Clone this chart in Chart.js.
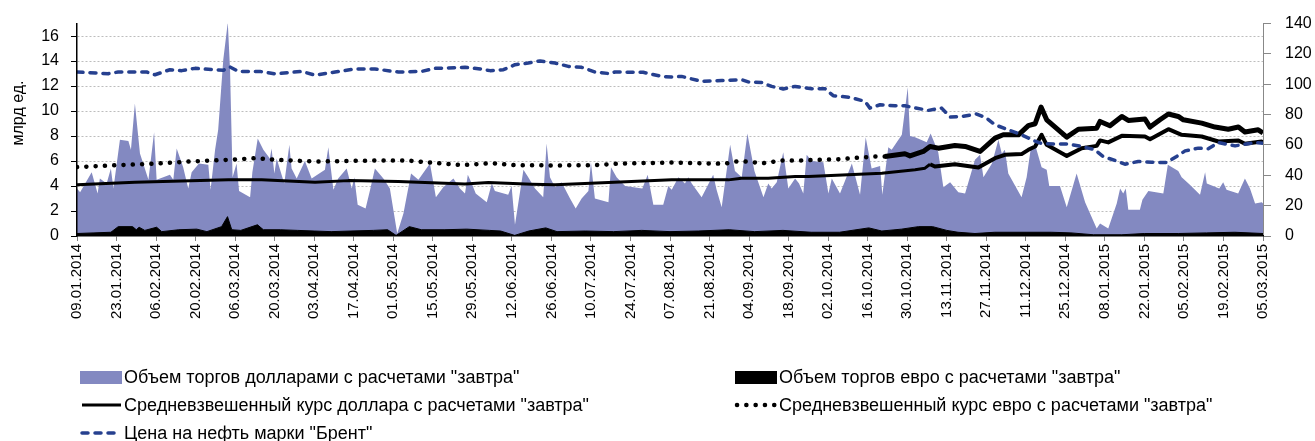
<!DOCTYPE html>
<html>
<head>
<meta charset="utf-8">
<script src="https://cdn.jsdelivr.net/npm/chart.js@4.4.0/dist/chart.umd.min.js"></script>
<style>
    html, body { margin: 0; padding: 0; background: #fff; }
</style>
</head>
<body>
<canvas id="chart" width="1315" height="441"></canvas>
<script>
// x values are calendar days counted from 09.01.2014
const tickLabels = ["09.01.2014", "23.01.2014", "06.02.2014", "20.02.2014", "06.03.2014", "20.03.2014",
    "03.04.2014", "17.04.2014", "01.05.2014", "15.05.2014", "29.05.2014", "12.06.2014", "26.06.2014",
    "10.07.2014", "24.07.2014", "07.08.2014", "21.08.2014", "04.09.2014", "18.09.2014", "02.10.2014",
    "16.10.2014", "30.10.2014", "13.11.2014", "27.11.2014", "11.12.2014", "25.12.2014", "08.01.2015",
    "22.01.2015", "05.02.2015", "19.02.2015", "05.03.2015"];
const leftTicks = [0, 2, 4, 6, 8, 10, 12, 14, 16];

const seriesNames = ['Объем торгов долларами с расчетами "завтра"', 'Объем торгов евро с расчетами "завтра"',
    'Средневзвешенный курс доллара с расчетами "завтра"', 'Средневзвешенный курс евро с расчетами "завтра"',
    'Цена на нефть марки "Брент"'];

// dollar volume, bln
const usdVolDays = [0, 1.1, 5.2, 7.3, 8.1, 10.5, 12.0, 12.9, 15.2, 18.2, 19.1, 20.5, 22.3, 25.3, 27.3, 28.2, 32.9, 34.1,
    35.3, 37.6, 39.4, 40.6, 43.2, 46.5, 47.3, 48.9, 50.0, 51.8, 53.4, 54.2, 55.1, 56.5, 57.4, 61.3, 62.1, 64.0, 66.0,
    68.3, 68.9, 69.9, 70.7, 73.4, 75.2, 76.0, 77.8, 80.7, 83.1, 87.8, 89.0, 90.8, 92.5, 95.5, 97.3, 98.2, 99.4, 102.2,
    103.8, 105.5, 108.5, 110.8, 113.4, 115.6, 118.3, 120.9, 125.0, 127.1, 129.7, 133.3, 135.6, 137.4, 138.4, 139.8,
    141.2, 145.1, 146.9, 148.0, 152.7, 153.9, 155.1, 158.1, 159.8, 162.2, 165.1, 166.3, 167.5, 169.3, 171.6, 174.6,
    176.6, 178.7, 181.1, 182.0, 183.4, 188.2, 189.1, 191.1, 194.1, 200.2, 202.1, 204.1, 207.6, 209.4, 210.6, 213.0,
    215.3, 216.5, 217.7, 221.2, 225.3, 226.5, 228.3, 231.3, 233.0, 235.4, 237.4, 239.9, 243.1, 244.8, 246.0, 247.8,
    250.1, 251.9, 254.3, 255.7, 257.2, 258.4, 260.2, 264.3, 266.1, 267.3, 270.2, 274.4, 277.3, 279.3, 281.4, 284.4,
    285.2, 287.3, 288.5, 292.1, 294.2, 295.0, 296.8, 300.9, 302.3, 305.0, 306.8, 309.2, 312.1, 314.5, 318.0, 319.8,
    321.0, 324.0, 326.3, 327.5, 328.6, 329.8, 334.5, 336.3, 337.7, 339.3, 341.6, 343.4, 344.3, 348.1, 350.5, 354.0,
    357.0, 361.1, 362.3, 365.2, 368.2, 369.4, 370.5, 371.4, 372.3, 376.4, 377.3, 379.4, 384.7, 386.3, 390.0, 391.2,
    394.1, 397.7, 399.5, 400.1, 404.5, 405.9, 407.1, 411.2, 413.6, 415.4, 417.2, 419.6, 420];
const usdVolValues = [3.8, 3.5, 5.1, 3.4, 4.6, 4.2, 5.4, 3.8, 7.7, 7.6, 6.9, 10.6, 6.6, 4.5, 8.3, 4.5, 4.9, 4.5,
    7.0, 5.5, 3.8, 5.1, 5.8, 5.7, 3.7, 6.9, 8.5, 14.1, 17.1, 13.3, 4.7, 5.8, 3.6, 3.1, 5.1, 7.8, 6.9,
    6.2, 7.0, 5.0, 6.2, 4.2, 7.3, 5.4, 4.6, 6.0, 4.6, 5.3, 7.1, 3.7, 4.6, 5.4, 3.8, 4.7, 2.5, 2.2,
    3.7, 5.4, 4.6, 3.8, 0.2, 1.8, 5.0, 4.5, 5.8, 3.1, 3.9, 4.6, 3.8, 3.4, 4.9, 4.2,
    3.4, 2.7, 4.2, 3.6, 3.3, 4.0, 0.9, 5.3, 4.7, 3.8, 3.1, 7.4, 4.7, 3.9, 4.3, 3.0,
    2.2, 3.0, 3.6, 5.9, 3.0, 2.7, 5.5, 4.7, 4.0, 3.8, 4.9, 2.5, 2.5, 4.0, 3.7, 4.7,
    4.2, 4.7, 4.2, 3.1, 4.9, 3.7, 2.3, 7.3, 5.2, 4.7, 8.2, 5.2, 3.1, 4.2, 3.8, 4.3,
    6.7, 3.8, 4.6, 4.2, 3.4, 6.5, 6.0, 5.9, 3.4, 4.6, 3.4, 5.8, 3.3, 7.9, 5.4, 5.6,
    3.3, 7.1, 6.9, 8.1, 11.9, 8.0, 7.9, 7.5, 8.2, 6.7, 3.9, 4.3, 3.5, 3.4, 6.1, 6.5,
    4.7, 5.8, 7.7, 6.6, 6.9, 5.0, 3.1, 4.7, 6.9, 7.3, 5.5, 5.3, 4.0, 4.0, 2.3, 5.0,
    2.7, 0.6, 1.0, 0.6, 2.6, 3.8, 3.4, 3.8, 2.1, 2.1, 2.9, 3.6, 3.4, 5.7, 5.2, 4.7,
    4.1, 3.3, 5.1, 4.2, 3.8, 4.3, 3.7, 3.4, 4.6, 3.8, 2.6, 2.7, 2.6];

// euro volume, bln
const eurVolDays = [0, 6, 12, 14.6, 19.7, 21, 22, 24, 28.2, 30, 36, 42.4, 46, 51.2, 53.3, 54.8, 58, 63.9, 66, 72, 78,
    84, 90, 97, 105, 110, 113, 117.7, 122, 130, 138, 146, 150, 155, 160, 166, 170, 180, 190, 200, 210, 220, 231,
    240, 250, 260, 270, 280.4, 285, 292, 298, 303, 308, 312, 318, 325, 335, 345, 352, 360, 370, 378, 390, 400, 410, 420];
const eurVolValues = [0.2, 0.25, 0.3, 0.75, 0.75, 0.5, 0.7, 0.45, 0.7, 0.35, 0.5, 0.55, 0.35, 0.75, 1.55, 0.5, 0.45,
    0.9, 0.5, 0.5, 0.45, 0.4, 0.35, 0.4, 0.45, 0.5, 0.05, 0.75, 0.5, 0.5, 0.55, 0.45, 0.4, 0.05, 0.4, 0.65, 0.35,
    0.4, 0.35, 0.45, 0.35, 0.4, 0.5, 0.35, 0.45, 0.3, 0.3, 0.65, 0.4, 0.55, 0.75, 0.75, 0.45, 0.3, 0.2, 0.3, 0.3,
    0.3, 0.25, 0.1, 0.1, 0.2, 0.2, 0.25, 0.3, 0.2];

// weighted average dollar rate, rub
const usdRateDays = [0, 20.5, 53.6, 65.4, 84.3, 96.1, 113.8, 137.4, 145.7, 161, 169.3, 188.2, 210.6, 230.7, 235.4,
    244.8, 254.3, 259, 285, 296.8, 300.3, 302.1, 303.8, 310.9, 319.2, 325.1, 328.6, 334.5, 336.9, 339.3, 341.6,
    343.4, 350.5, 355.8, 361.1, 362.3, 365.2, 370, 378.2, 380, 386.5, 391.2, 398.3, 404.2, 411.3, 413.6, 419.5, 420];
const usdRateValues = [33.7, 35.5, 37.0, 37.0, 35.5, 36.5, 35.9, 34.3, 35.2, 34.1, 33.7, 35.2, 37.0, 37.0, 38.1,
    38.1, 39.2, 39.2, 41.4, 43.6, 44.7, 47.3, 45.8, 47.3, 45.1, 51.3, 53.5, 54.0, 56.8, 59.0, 66.7,
    60.1, 52.8, 57.9, 59.4, 63.0, 61.7, 66.0, 65.6, 63.8, 70.4, 66.7, 65.6, 62.3, 63.0, 60.8, 62.3, 61.2];

// weighted average euro rate, rub (dotted until late October, solid after)
const eurRateDays = [0, 13.5, 27, 40, 53.6, 63.6, 70.1, 84.3, 106.7, 116.8, 123.2, 136.2, 146.9, 155.1, 169.3, 183.4,
    192.9, 210.6, 229.5, 233, 236.6, 243.1, 249.6, 256, 269.6, 282.6, 286.1];
const eurRateValues = [45.4, 46.6, 47.6, 49.1, 50.2, 51.3, 50.2, 49.1, 49.8, 49.8, 48.7, 46.7, 48.0, 46.7, 46.5, 46.7,
    47.8, 48.4, 47.6, 49.1, 49.1, 48.0, 49.8, 49.8, 50.6, 52.4, 52.4];
const eurRateLateDays = [286.1, 293.2, 295, 299.7, 302.1, 305, 310.9, 314.5, 319.8, 325.1, 328, 333.4, 336.9, 339.3,
    341.4, 343.4, 350.5, 354.6, 361.1, 362.3, 365.8, 370, 372.3, 378.2, 380, 383.5, 386.5, 390, 391.8, 398.3, 403,
    407.7, 411.3, 413.6, 418.3, 420];
const eurRateLateValues = [52.4, 54.2, 52.8, 55.7, 59.0, 57.9, 59.6, 59.0, 55.7, 64.5, 66.7, 66.7, 72.7, 74.0,
    85.0, 76.6, 65.2, 70.4, 71.1, 75.5, 72.7, 78.8, 76.2, 77.1, 71.8, 76.6, 80.4, 78.8, 76.6, 74.4, 71.8,
    70.4, 71.8, 68.5, 70.0, 67.9];

// Brent, usd per barrel
const brentDays = [0, 11.1, 14.6, 24.7, 27.6, 32.9, 37.1, 41.8, 51.8, 54.2, 57.1, 64.8, 70.1, 79.6, 84.3, 91.4, 98.5,
    105.5, 113.8, 122.1, 126.8, 137.4, 142.1, 146.3, 151, 155.1, 159.8, 164, 169.3, 174, 178.7, 183.4, 188.8, 190.5,
    200.5, 207.1, 210.6, 214.1, 221.2, 228.3, 235.4, 237.7, 242.5, 246, 250.1, 254.3, 260.2, 264.9, 267.8, 273.8,
    279.1, 280.8, 284.4, 289.7, 293.2, 295.6, 301.5, 306.2, 309.2, 313.3, 318.6, 322.1, 325.1, 329.8, 334.5, 339.3,
    341.6, 346.3, 351, 355.8, 360.5, 363.4, 367.6, 371.1, 375.8, 380.6, 385.9, 389.4, 392.4, 397.1, 400.6, 404.2,
    410.1, 417.2, 420];
const brentValues = [108.1, 107.0, 108.1, 108.1, 106.3, 109.6, 109.0, 110.5, 109.2, 111.4, 108.5, 108.5, 106.9, 108.5,
    106.0, 108.1, 110.1, 110.1, 108.1, 108.5, 110.5, 111.2, 110.3, 109.0, 109.6, 112.9, 114.0, 115.4, 114.0, 111.8,
    111.2, 108.1, 107.0, 108.1, 107.9, 105.2, 104.8, 105.2, 101.9, 102.5, 103.0, 101.6, 101.2, 98.6, 96.9, 98.6,
    97.1, 97.1, 92.5, 91.4, 88.7, 84.3, 86.5, 85.8, 85.8, 84.9, 82.8, 84.3, 78.4, 78.8, 80.4, 77.7, 73.3, 70.0,
    66.7, 62.5, 61.0, 60.6, 60.6, 59.0, 56.8, 52.4, 49.8, 47.3, 49.1, 48.6, 48.4, 52.4, 56.1, 57.9, 57.5, 61.6,
    59.4, 61.6, 61.2];

const FONT = "'Liberation Sans', Arial, sans-serif";

function points(days, values) {
    return days.map((d, i) => ({x: d, y: values[i]}));
}

// legend slots: dataset index and where it goes
const legendSlots = [
    {ds: 0, x: 80, y: 377}, {ds: 1, x: 735, y: 377},
    {ds: 2, x: 80, y: 405}, {ds: 3, x: 735, y: 405},
    {ds: 5, x: 80, y: 433}
];

const extras = {
    id: "extras",
    afterDraw(chart) {
        const ctx = chart.ctx;
        ctx.save();
        // left axis title
        ctx.fillStyle = "#000";
        ctx.font = "16px " + FONT;
        ctx.textAlign = "center";
        ctx.textBaseline = "middle";
        ctx.translate(19, 113);
        ctx.rotate(-Math.PI / 2);
        ctx.fillText("млрд ед.", 0, 0);
        ctx.restore();

        // legend
        legendSlots.forEach(slot => {
            const ds = chart.data.datasets[slot.ds];
            ctx.save();
            if (ds.fill) {
                ctx.fillStyle = ds.backgroundColor;
                ctx.fillRect(slot.x, slot.y - 6, 42, 13);
            } else {
                ctx.strokeStyle = ds.borderColor;
                ctx.lineWidth = ds.borderWidth;
                ctx.lineCap = ds.borderCapStyle || "butt";
                ctx.setLineDash(ds.borderDash || []);
                ctx.beginPath();
                ctx.moveTo(slot.x + 2, slot.y);
                ctx.lineTo(slot.x + 41, slot.y);
                ctx.stroke();
            }
            ctx.fillStyle = "#000";
            ctx.font = "18px " + FONT;
            ctx.textAlign = "left";
            ctx.textBaseline = "middle";
            ctx.fillText(ds.label, slot.x + 44, slot.y + 1);
            ctx.restore();
        });
    }
};

const lineBase = {type: "line", pointRadius: 0, tension: 0, borderJoinStyle: "round", yAxisID: "y1", fill: false};

new Chart(document.getElementById("chart"), {
    type: "line",
    data: {
        datasets: [
            {type: "line", label: seriesNames[0], data: points(usdVolDays, usdVolValues), yAxisID: "y",
                fill: "origin", backgroundColor: "#8389c1", borderWidth: 0, pointRadius: 0, tension: 0, order: 6},
            {type: "line", label: seriesNames[1], data: points(eurVolDays, eurVolValues), yAxisID: "y",
                fill: "origin", backgroundColor: "#000", borderColor: "#000", borderWidth: 1, pointRadius: 0, tension: 0, order: 5},
            {...lineBase, label: seriesNames[2], data: points(usdRateDays, usdRateValues),
                borderColor: "#000", borderWidth: 3, order: 3,
                segment: {borderWidth: c => c.p0.parsed.x >= 302 ? 4 : 3}},
            {...lineBase, label: seriesNames[3], data: points(eurRateDays, eurRateValues),
                borderColor: "#000", borderWidth: 4.5, borderDash: [0.1, 9.2], borderCapStyle: "round", order: 2},
            {...lineBase, label: seriesNames[3], data: points(eurRateLateDays, eurRateLateValues),
                borderColor: "#000", borderWidth: 5, order: 2},
            {...lineBase, label: seriesNames[4], data: points(brentDays, brentValues),
                borderColor: "#26408f", borderWidth: 3.5, borderDash: [6, 7], borderCapStyle: "round", order: 1}
        ]
    },
    options: {
        responsive: false,
        animation: false,
        events: [],
        layout: {padding: {top: 23, left: 0, right: 0, bottom: 0}},
        plugins: {legend: {display: false}, tooltip: {enabled: false}},
        scales: {
            x: {
                type: "linear", min: 0, max: 420,
                ticks: {
                    stepSize: 14, autoSkip: false, maxRotation: 90, minRotation: 90, padding: 3,
                    color: "#000", font: {family: FONT, size: 15},
                    callback: (v, i) => tickLabels[i]
                },
                grid: {drawOnChartArea: false, drawTicks: true, tickLength: 5, tickColor: "#7f7f7f"},
                border: {color: "#000", width: 1.5, z: 1},
                afterFit: s => { s.height = 205; }
            },
            y: {
                position: "left", min: 0, max: 17,
                ticks: {color: "#000", font: {family: FONT, size: 16}, padding: 12},
                grid: {
                    color: c => (c.tick && c.tick.value === 0) ? "rgba(0,0,0,0)" : "#bdbdbd",
                    tickLength: 6, tickColor: "#000", tickBorderDash: []
                },
                border: {color: "#000", width: 1.5, dash: [2, 2], z: 1},
                afterBuildTicks: s => { s.ticks = leftTicks.map(v => ({value: v})); },
                afterFit: s => { s.width = 77; }
            },
            y1: {
                position: "right", min: 0, max: 140,
                ticks: {stepSize: 20, color: "#000", font: {family: FONT, size: 16}, padding: 14},
                grid: {drawOnChartArea: false, drawTicks: true, tickLength: 8, tickColor: "#888"},
                border: {color: "#888", width: 1},
                afterFit: s => { s.width = 52; }
            }
        }
    },
    plugins: [extras]
});
</script>
</body>
</html>
